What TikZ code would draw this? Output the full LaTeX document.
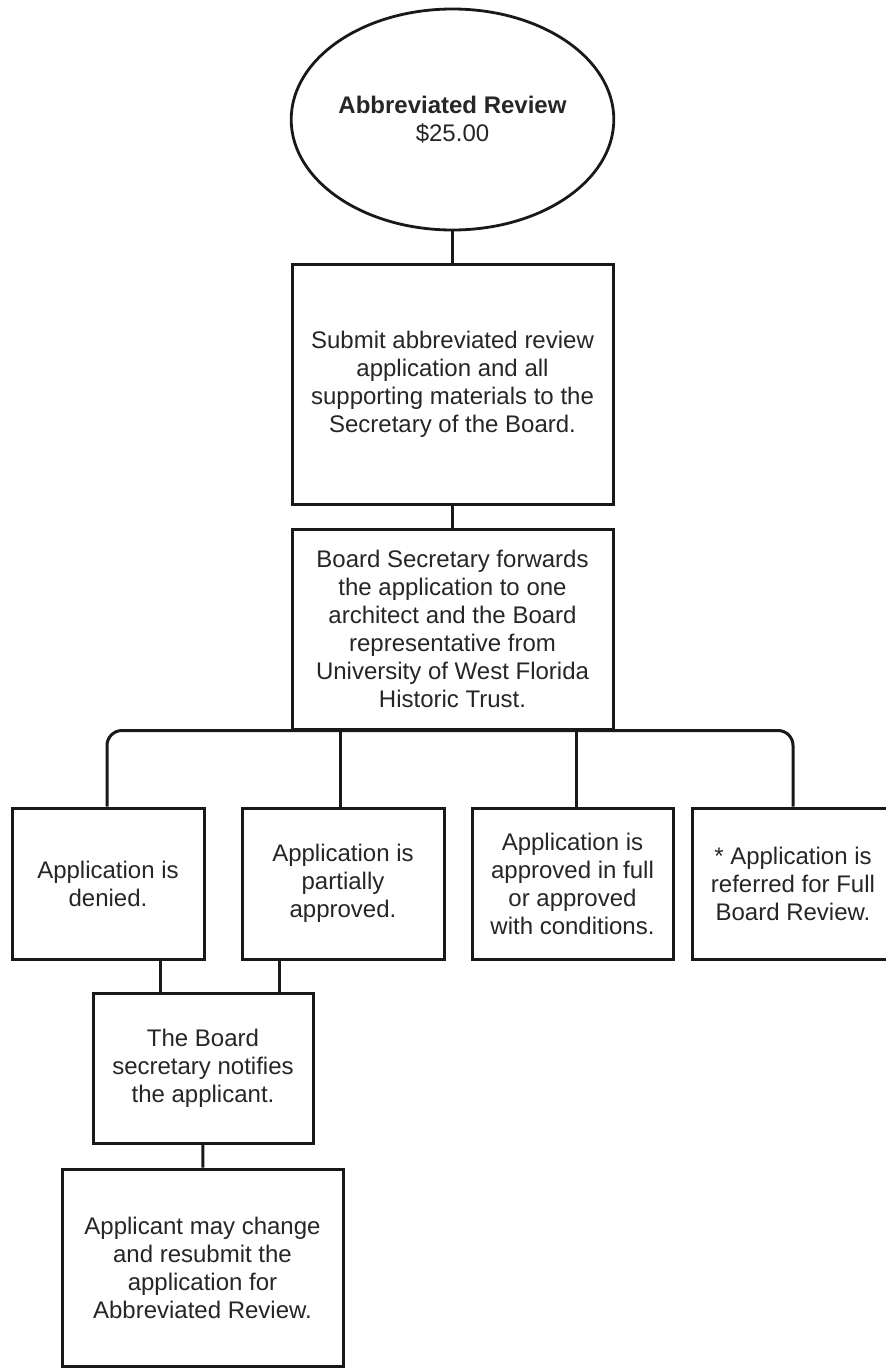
\documentclass[tikz,border=0pt]{standalone}
\usepackage{fontspec}
\setmainfont{Liberation Sans}
\usetikzlibrary{shapes.geometric}
\begin{document}
\begin{tikzpicture}[x=1pt,y=-1pt,
  every node/.style={font=\fontsize{24}{28}\selectfont, text=black!85, align=center, inner sep=0pt},
  stepbox/.style={draw=black!90, line width=3pt, fill=white, rectangle},
  link/.style={draw=black!90, line width=3pt}
]
\useasboundingbox (0,0) rectangle (886,1368);
\fill[white] (0,0) rectangle (886,1368);

\node[draw=black!90, line width=2.8pt, ellipse, minimum width=281pt, minimum height=221pt] (start) at (452.5,119.5)
  {\textbf{Abbreviated Review}\\\$25.00};

\node[stepbox, minimum width=321pt, minimum height=240pt] (submit) at (452.5,384)
  {Submit abbreviated review\\application and all\\supporting materials to the\\Secretary of the Board.};

\node[stepbox, minimum width=321pt, minimum height=200pt] (forward) at (452.5,629)
  {Board Secretary forwards\\the application to one\\architect and the Board\\representative from\\University of West Florida\\Historic Trust.};

\node[stepbox, minimum width=192pt, minimum height=151pt] (denied) at (108,883.5)
  {Application is\\denied.};
\node[stepbox, minimum width=202pt, minimum height=151pt] (partial) at (343,883.5)
  {Application is\\partially\\approved.};
\node[stepbox, minimum width=201pt, minimum height=151pt] (approved) at (572.5,883.5)
  {Application is\\approved in full\\or approved\\with conditions.};
\node[stepbox, minimum width=202pt, minimum height=151pt] (referred) at (793,883.5)
  {* Application is\\referred for Full\\Board Review.};

\node[stepbox, minimum width=220pt, minimum height=150pt] (notify) at (203,1068)
  {The Board\\secretary notifies\\the applicant.};

\node[stepbox, minimum width=281pt, minimum height=197pt] (resubmit) at (202.5,1267.5)
  {Applicant may change\\and resubmit the\\application for\\Abbreviated Review.};

\draw[link] (start) -- (submit);
\draw[link] (submit) -- (forward);
\draw[link, rounded corners=15pt] ([xshift=-1pt]denied.north) |- (forward.south) -| (referred.north);
\draw[link] ([xshift=-3pt]partial.north) -- ([xshift=-3pt]partial.north |- forward.south);
\draw[link] ([xshift=3.5pt]approved.north) -- ([xshift=3.5pt]approved.north |- forward.south);
\draw[link] ([xshift=52pt]denied.south) -- ([xshift=52pt]denied.south |- notify.north);
\draw[link] ([xshift=-64pt]partial.south) -- ([xshift=-64pt]partial.south |- notify.north);
\draw[link] (notify) -- (resubmit);
\end{tikzpicture}
\end{document}
